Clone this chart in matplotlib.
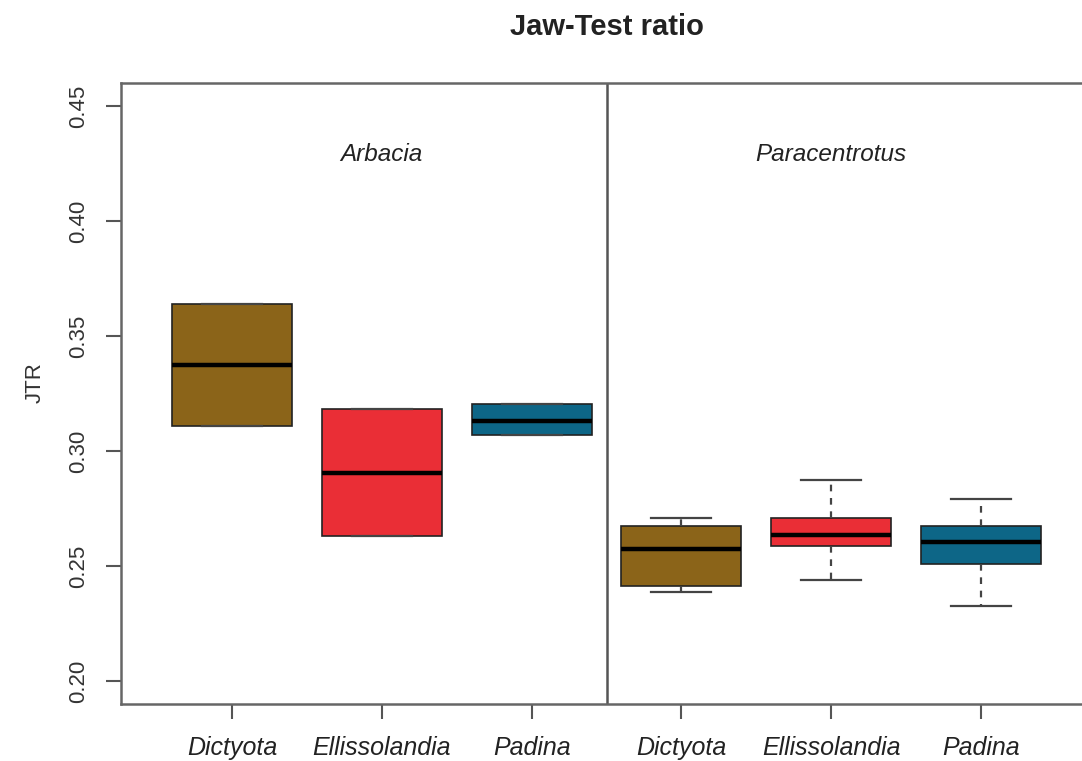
import matplotlib.pyplot as plt

plt.rcParams["font.family"] = ["Liberation Sans", "DejaVu Sans"]

# Box statistics per group: Arbacia (1-3), Paracentrotus (4-6)
algae = ["Dictyota", "Ellissolandia", "Padina", "Dictyota", "Ellissolandia", "Padina"]
whislo = [0.3109, 0.2629, 0.3068, 0.2387, 0.2439, 0.2328]
q1 = [0.3109, 0.2629, 0.3068, 0.2411, 0.2587, 0.2509]
med = [0.3376, 0.2904, 0.3132, 0.2575, 0.2635, 0.2603]
q3 = [0.3639, 0.3181, 0.3206, 0.2674, 0.2708, 0.2674]
whishi = [0.3639, 0.3181, 0.3206, 0.2708, 0.2872, 0.2793]
species = ["Arbacia", "Paracentrotus"]

colors = ["#8b6419", "#ea2e36", "#0d6687"] * 2

fig = plt.figure(figsize=(10.82, 7.61), dpi=100)
W, H = 1082, 761
ax = fig.add_axes([121 / W, (H - 704) / H, 971 / W, 621 / H])

stats = [
    dict(label=a, whislo=lo, q1=b, med=m, q3=t, whishi=hi, fliers=[])
    for a, lo, b, m, t, hi in zip(algae, whislo, q1, med, q3, whishi)
]
positions = range(1, len(stats) + 1)
bp = ax.bxp(
    stats,
    positions=positions,
    widths=0.8,
    patch_artist=True,
    boxprops=dict(edgecolor="#222222", linewidth=1.2),
    medianprops=dict(color="black", linewidth=3.2, solid_capstyle="butt"),
    whiskerprops=dict(color="#444444", linewidth=1.6, linestyle=(0, (3, 3))),
    capprops=dict(color="#444444", linewidth=1.6),
    capwidths=0.4,
)
for patch, c in zip(bp["boxes"], colors):
    patch.set_facecolor(c)

# Divider between the two urchin species
ax.axvline(3.5, color="#555555", lw=1.8)

for xc, name in zip([2, 5], species):
    ax.text(xc, 0.429, name, ha="center", va="center", style="italic",
            fontsize=17.5, color="#222222")

ax.set_xlim(0.26, 6.74)
ax.set_ylim(0.19, 0.46)
ax.set_yticks([0.20, 0.25, 0.30, 0.35, 0.40, 0.45])
ax.set_yticklabels(["0.20", "0.25", "0.30", "0.35", "0.40", "0.45"],
                   rotation=90, va="center", fontsize=16, color="#333333")
ax.set_xticks(list(positions))
ax.set_xticklabels(algae, style="italic", fontsize=18, color="#222222")
ax.tick_params(axis="both", length=11, width=1.5, color="#555555")
ax.tick_params(axis="x", pad=12)
ax.tick_params(axis="y", pad=12)

for side in ["left", "bottom", "top"]:
    ax.spines[side].set_color("#666666")
    ax.spines[side].set_linewidth(1.8)
ax.spines["right"].set_visible(False)

fig.text(35 / W, 1 - 383 / H, "JTR", rotation=90, ha="center", va="center",
         fontsize=16, color="#333333")
fig.text(607 / W, 1 - 27 / H, "Jaw-Test ratio", ha="center", va="center",
         fontsize=21, fontweight="bold", color="#222222")

fig.savefig("out.png", dpi=100)
